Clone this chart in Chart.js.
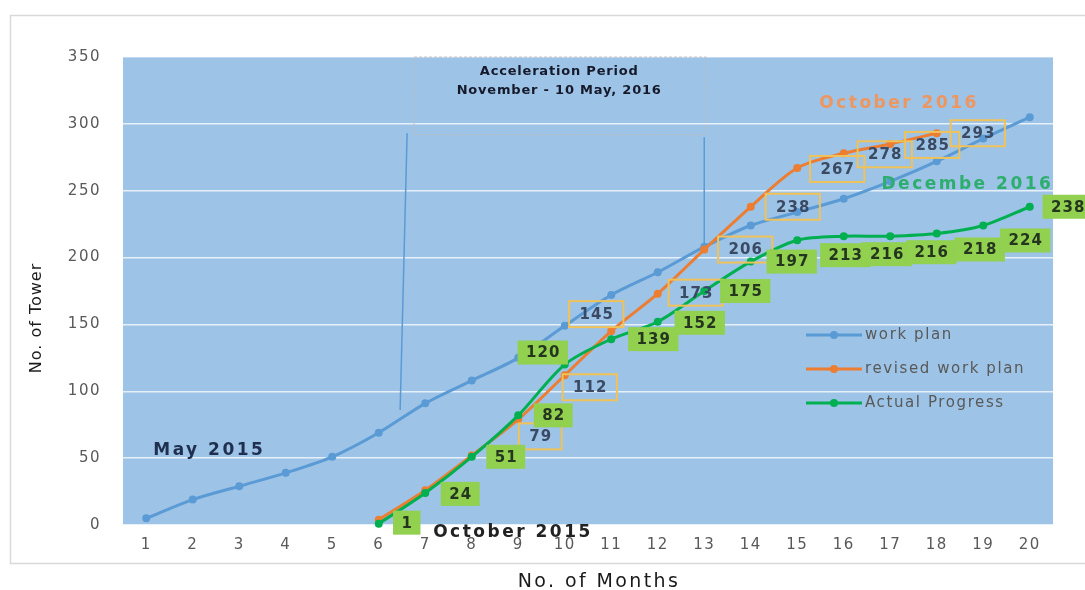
<!DOCTYPE html>
<html>
<head>
<meta charset="utf-8">
<title>Tower progress</title>
<script src="https://cdn.jsdelivr.net/npm/chart.js@4.4.1/dist/chart.umd.min.js"></script>
<style>
  html, body { margin: 0; padding: 0; background: #ffffff; }
  #wrap { width: 1085px; height: 590px; position: relative; }
</style>
</head>
<body>
<div id="wrap"><canvas id="chart" width="1085" height="590"></canvas></div>
<script>
// ---- data ----
const months = ['1','2','3','4','5','6','7','8','9','10','11','12','13','14','15','16','17','18','19','20'];
const yTicks = [0, 50, 100, 150, 200, 250, 300, 350];
const workPlan = [5, 19, 29, 39, 51, 69, 91, 108, 125, 149, 172, 189, 208, 224, 234, 244, 257, 272, 289, 305];
const revisedWorkPlan = [null, null, null, null, null, 4, 26, 52, 79, 112, 145, 173, 206, 238, 267, 278, 285, 293, null, null];
const actualProgress = [null, null, null, null, null, 1, 24, 51, 82, 120, 139, 152, 175, 197, 213, 216, 216, 218, 224, 238];
const seriesNames = ['work plan', 'revised work plan', 'Actual Progress'];
const xTitle = 'No. of Months';
const yTitle = 'No. of Tower';

// label placement (pixel offsets from each point), null = no label
const revisedLabelOffsets = [null, null, null, null, null, null, null, null,
  [22, 17], [25, 12], [-15, -17], [38, -1], [41, 0], [42, 0], [40, 1], [41, 1], [42, 1], [41, 0], null, null];
const actualLabelOffsets = [null, null, null, null, null,
  [28, -1], [35, 1], [34, 0], [35, 0], [-22, -12], [42, 0], [42, 1], [41, 0], [41, 0],
  [48, 15], [43, 18], [41, 16], [43, 16], [42, 15], [38, 0]];

const FONT = 'DejaVu Sans';
const colors = { plan: '#5b9bd5', revised: '#ed7d31', actual: '#00b050' };

// ---- plugins ----
const backdrop = {
  id: 'backdrop',
  beforeDraw(chart) {
    const { ctx, chartArea: a } = chart;
    ctx.save();
    ctx.fillStyle = '#ffffff';
    ctx.fillRect(0, 0, chart.width, chart.height);
    ctx.strokeStyle = '#d9d9d9';
    ctx.lineWidth = 1.5;
    ctx.strokeRect(10.5, 15.5, chart.width + 20, 548);
    ctx.fillStyle = '#9dc3e6';
    ctx.fillRect(a.left, a.top, a.right - a.left, a.bottom - a.top);
    ctx.restore();
    ctx.letterSpacing = '1.5px';
  }
};

const underlay = {
  id: 'underlay',
  beforeDatasetsDraw(chart) {
    const { ctx, chartArea: a, scales: { x, y } } = chart;
    ctx.save();
    // acceleration period frame
    const x0 = x.getPixelForValue(5.76), x1 = x.getPixelForValue(12.04);
    const y0 = y.getPixelForValue(350), y1 = y.getPixelForValue(292);
    ctx.setLineDash([3, 2]);
    ctx.strokeStyle = 'rgba(190,190,190,0.9)';
    ctx.lineWidth = 1;
    ctx.strokeRect(x0, y0, x1 - x0, y1 - y0);
    ctx.setLineDash([]);
    ctx.letterSpacing = '0.8px';
    ctx.fillStyle = '#15192a';
    ctx.font = 'bold 13px ' + FONT;
    ctx.textAlign = 'center';
    ctx.textBaseline = 'middle';
    const cx = x.getPixelForValue(8.88);
    ctx.fillText('Acceleration Period', cx, y.getPixelForValue(339));
    ctx.fillText('November - 10 May, 2016', cx, y.getPixelForValue(325));
    // period boundaries
    ctx.strokeStyle = colors.plan;
    ctx.lineWidth = 1.5;
    ctx.beginPath();
    ctx.moveTo(x.getPixelForValue(5.61), y.getPixelForValue(293));
    ctx.lineTo(x.getPixelForValue(5.46), y.getPixelForValue(86));
    ctx.moveTo(x.getPixelForValue(12), y.getPixelForValue(290));
    ctx.lineTo(x.getPixelForValue(12), y.getPixelForValue(206));
    ctx.stroke();

    // axis titles
    ctx.fillStyle = '#1a1a1a';
    ctx.letterSpacing = '2.4px';
    ctx.font = '19px ' + FONT;
    ctx.textAlign = 'center';
    ctx.fillText(xTitle, (a.left + a.right) / 2 + 11, 582);
    ctx.letterSpacing = '1px';
    ctx.font = '16px ' + FONT;
    ctx.translate(37, (a.top + a.bottom) / 2 + 27);
    ctx.rotate(-Math.PI / 2);
    ctx.fillText(yTitle, 0, 0);
    ctx.restore();
  }
};

function drawLabel(ctx, cx, cy, text, kind) {
  ctx.font = 'bold 15px ' + FONT;
  const w = ctx.measureText(text).width;
  if (kind === 'revised') {
    const bw = w + 20, bh = 26;
    ctx.strokeStyle = '#efc25a';
    ctx.lineWidth = 2;
    ctx.strokeRect(cx - bw / 2, cy - bh / 2, bw, bh);
    ctx.fillStyle = '#3b4a63';
  } else {
    const bw = w + 16, bh = 24;
    ctx.fillStyle = '#92d050';
    ctx.fillRect(cx - bw / 2, cy - bh / 2, bw, bh);
    ctx.fillStyle = '#25361f';
  }
  ctx.textAlign = 'center';
  ctx.textBaseline = 'middle';
  ctx.fillText(text, cx + 0.5, cy + 1);
}

const overlay = {
  id: 'overlay',
  afterDatasetsDraw(chart) {
    const { ctx, chartArea: a, scales: { x, y } } = chart;
    ctx.save();
    ctx.letterSpacing = '1px';
    // value labels
    const revMeta = chart.getDatasetMeta(1), actMeta = chart.getDatasetMeta(2);
    revisedWorkPlan.forEach((v, i) => {
      const off = revisedLabelOffsets[i];
      if (v === null || !off) return;
      const p = revMeta.data[i];
      drawLabel(ctx, p.x + off[0], p.y + off[1], String(v), 'revised');
    });
    actualProgress.forEach((v, i) => {
      const off = actualLabelOffsets[i];
      if (v === null || !off) return;
      const p = actMeta.data[i];
      drawLabel(ctx, p.x + off[0], p.y + off[1], String(v), 'actual');
    });

    // period notes
    ctx.letterSpacing = '2.5px';
    ctx.font = 'bold 17px ' + FONT;
    ctx.textBaseline = 'middle';
    ctx.textAlign = 'left';
    ctx.fillStyle = '#1f2f4f';
    ctx.fillText('May 2015', x.getPixelForValue(0.15), y.getPixelForValue(56));
    ctx.fillStyle = '#222222';
    ctx.fillText('October 2015', x.getPixelForValue(6.17), y.getPixelForValue(-5.5));
    ctx.textAlign = 'center';
    ctx.fillStyle = '#ee9660';
    ctx.fillText('October 2016', x.getPixelForValue(16.19), y.getPixelForValue(315));
    ctx.fillStyle = '#2eae6e';
    ctx.fillText('Decembe 2016', x.getPixelForValue(17.66), y.getPixelForValue(254.5));

    // legend
    ctx.letterSpacing = '1.6px';
    ctx.font = '15px ' + FONT;
    ctx.textAlign = 'left';
    const lx = a.right - 247, rows = [a.top + 278, a.top + 312, a.top + 346];
    chart.data.datasets.forEach((ds, i) => {
      const ly = rows[i];
      ctx.strokeStyle = ds.borderColor;
      ctx.lineWidth = 3;
      ctx.beginPath();
      ctx.moveTo(lx, ly);
      ctx.lineTo(lx + 56, ly);
      ctx.stroke();
      ctx.fillStyle = ds.borderColor;
      ctx.beginPath();
      ctx.arc(lx + 28, ly, 4, 0, Math.PI * 2);
      ctx.fill();
      ctx.fillStyle = '#595959';
      ctx.fillText(ds.label, lx + 59, ly);
    });
    ctx.restore();
  }
};

// ---- chart ----
const lineStyle = (color) => ({
  borderColor: color,
  backgroundColor: color,
  borderWidth: 3,
  pointRadius: 4,
  pointBorderWidth: 0,
  pointBackgroundColor: color,
  tension: 0.3,
  clip: false
});

new Chart(document.getElementById('chart'), {
  type: 'line',
  data: {
    labels: months,
    datasets: [
      { label: seriesNames[0], data: workPlan, order: 3, ...lineStyle(colors.plan) },
      { label: seriesNames[1], data: revisedWorkPlan, order: 2, ...lineStyle(colors.revised) },
      { label: seriesNames[2], data: actualProgress, order: 1, ...lineStyle(colors.actual) }
    ]
  },
  options: {
    responsive: false,
    animation: false,
    devicePixelRatio: 1,
    layout: { padding: { left: 0, right: 32, top: 57, bottom: 0 } },
    plugins: { legend: { display: false }, tooltip: { enabled: false } },
    scales: {
      x: {
        type: 'category',
        offset: true,
        grid: { display: false, drawTicks: false },
        border: { display: false },
        ticks: { color: '#595959', font: { family: FONT, size: 15 }, padding: 11, maxRotation: 0, autoSkip: false },
        title: { display: false },
        afterFit(s) { s.height = 65; }
      },
      y: {
        min: 0,
        max: 350,
        afterBuildTicks(s) { s.ticks = yTicks.map(v => ({ value: v })); },
        grid: { color: 'rgba(255,255,255,0.75)', lineWidth: 1.5, drawTicks: false },
        border: { display: false },
        ticks: { color: '#595959', font: { family: FONT, size: 15 }, padding: 22 },
        title: { display: false },
        afterFit(s) { s.width = 123; }
      }
    }
  },
  plugins: [backdrop, underlay, overlay]
});
</script>
</body>
</html>
